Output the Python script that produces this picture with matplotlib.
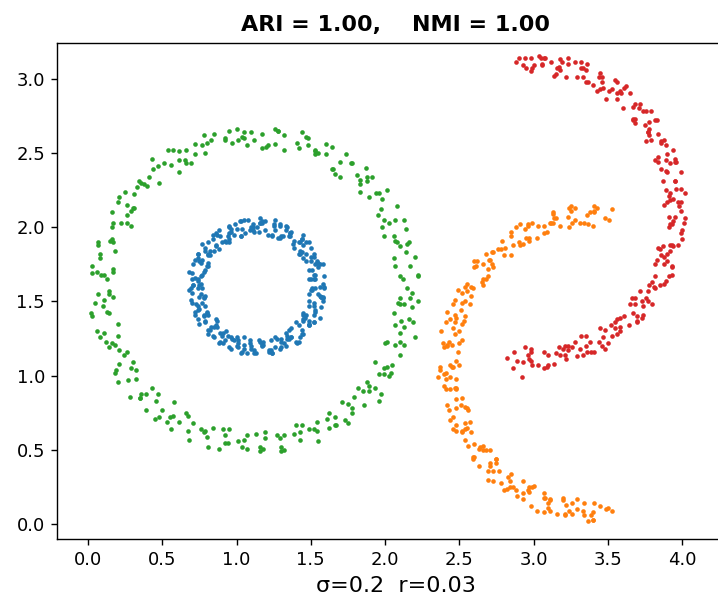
import matplotlib
matplotlib.use("Agg")
import matplotlib.pyplot as plt
import numpy as np

# points, one list per cluster
green_pts = [
    (2.18, 1.56), (2.10, 1.67), (2.22, 1.68), (2.12, 1.65), (2.14, 1.83), (2.06, 1.79), (2.16, 1.90), (2.07, 1.91),
    (2.15, 1.89), (2.06, 1.94), (2.13, 2.05), (1.97, 2.12), (2.03, 2.03), (1.95, 2.08), (2.01, 2.25), (1.94, 2.23),
    (1.83, 2.24), (1.91, 2.34), (1.83, 2.29), (1.88, 2.34), (1.81, 2.35), (1.70, 2.44), (1.78, 2.43), (1.65, 2.39),
    (1.64, 2.54), (1.53, 2.49), (1.60, 2.56), (1.48, 2.55), (1.53, 2.51), (1.42, 2.53), (1.47, 2.61), (1.28, 2.65),
    (1.32, 2.52), (1.21, 2.55), (1.26, 2.66), (1.17, 2.63),
    (1.04, 2.61), (1.10, 2.64), (1.01, 2.59), (1.05, 2.60), (0.97, 2.57), (0.85, 2.63), (0.92, 2.59), (0.79, 2.50),
    (0.78, 2.62), (0.66, 2.52), (0.72, 2.56), (0.61, 2.51), (0.66, 2.43), (0.56, 2.42), (0.61, 2.45), (0.43, 2.46),
    (0.48, 2.30), (0.38, 2.29), (0.44, 2.39), (0.36, 2.30), (0.25, 2.24), (0.33, 2.27), (0.26, 2.15), (0.31, 2.13),
    (0.26, 2.08), (0.16, 2.10), (0.26, 2.03), (0.15, 1.91), (0.16, 2.00), (0.07, 1.88), (0.17, 1.90), (0.08, 1.82),
    (0.17, 1.72), (0.09, 1.68), (0.17, 1.70), (0.03, 1.69),
    (0.11, 1.51), (0.05, 1.49), (0.14, 1.57), (0.10, 1.47), (0.03, 1.40), (0.14, 1.42), (0.11, 1.29), (0.20, 1.27),
    (0.18, 1.21), (0.12, 1.23), (0.26, 1.16), (0.19, 1.04), (0.24, 1.14), (0.18, 1.02), (0.32, 1.04), (0.27, 0.97),
    (0.39, 0.88), (0.35, 0.85), (0.47, 0.88), (0.36, 0.88), (0.48, 0.72), (0.45, 0.71), (0.58, 0.82), (0.57, 0.73),
    (0.53, 0.69), (0.67, 0.73), (0.67, 0.63), (0.79, 0.63), (0.80, 0.59), (0.76, 0.64), (0.92, 0.60), (0.88, 0.51),
    (0.95, 0.64), (0.92, 0.55), (1.07, 0.60), (1.05, 0.57),
    (1.18, 0.51), (1.16, 0.52), (1.29, 0.58), (1.19, 0.62), (1.32, 0.50), (1.30, 0.52), (1.44, 0.67), (1.43, 0.62),
    (1.39, 0.61), (1.54, 0.69), (1.54, 0.63), (1.66, 0.67), (1.67, 0.67), (1.62, 0.75), (1.78, 0.75), (1.73, 0.70),
    (1.79, 0.86), (1.75, 0.81), (1.89, 0.90), (1.85, 0.90), (1.97, 0.88), (1.93, 0.92), (2.04, 1.02), (1.93, 1.09),
    (2.03, 1.00), (1.99, 1.05), (2.10, 1.23), (2.07, 1.21), (2.01, 1.23), (2.13, 1.33), (2.10, 1.29), (2.19, 1.36),
    (2.16, 1.38), (2.09, 1.49), (2.22, 1.50), (2.13, 1.48),
    # second sweep
    (2.10, 1.52), (2.22, 1.67), (2.15, 1.59), (2.07, 1.74), (2.17, 1.74), (2.10, 1.87), (2.20, 1.80), (2.08, 1.90),
    (2.14, 1.99), (1.99, 1.94), (2.07, 2.05), (1.98, 2.00), (2.08, 2.14), (1.99, 2.05), (1.89, 2.20), (1.98, 2.19),
    (1.88, 2.31), (1.96, 2.23), (1.83, 2.32), (1.87, 2.40), (1.70, 2.34), (1.77, 2.43), (1.66, 2.36), (1.74, 2.49),
    (1.64, 2.39), (1.53, 2.52), (1.60, 2.49), (1.48, 2.60), (1.55, 2.50), (1.41, 2.57), (1.44, 2.64), (1.26, 2.56),
    (1.32, 2.62), (1.20, 2.54), (1.28, 2.65), (1.17, 2.53),
    (1.05, 2.64), (1.12, 2.59), (1.00, 2.66), (1.07, 2.55), (0.92, 2.60), (0.95, 2.65), (0.77, 2.55), (0.83, 2.59),
    (0.72, 2.49), (0.80, 2.57), (0.69, 2.43), (0.57, 2.52), (0.65, 2.45), (0.54, 2.52), (0.61, 2.37), (0.47, 2.41),
    (0.51, 2.43), (0.34, 2.31), (0.41, 2.34), (0.31, 2.22), (0.40, 2.28), (0.30, 2.13), (0.21, 2.20), (0.29, 2.11),
    (0.20, 2.17), (0.29, 2.01), (0.17, 2.03), (0.22, 2.03), (0.07, 1.90), (0.16, 1.92), (0.08, 1.79), (0.18, 1.84),
    (0.11, 1.68), (0.03, 1.74), (0.13, 1.65), (0.06, 1.70),
    (0.17, 1.53), (0.07, 1.55), (0.14, 1.55), (0.02, 1.42), (0.13, 1.43), (0.06, 1.30), (0.20, 1.35), (0.14, 1.19),
    (0.08, 1.26), (0.21, 1.17), (0.16, 1.22), (0.29, 1.05), (0.21, 1.08), (0.30, 1.09), (0.20, 0.96), (0.32, 0.98),
    (0.28, 0.86), (0.43, 0.92), (0.39, 0.77), (0.35, 0.85), (0.50, 0.77), (0.46, 0.83), (0.61, 0.69), (0.55, 0.72),
    (0.66, 0.75), (0.56, 0.64), (0.71, 0.68), (0.68, 0.57), (0.84, 0.65), (0.81, 0.52), (0.78, 0.62), (0.94, 0.55),
    (0.91, 0.64), (1.07, 0.51), (1.01, 0.56), (1.13, 0.61),
    (1.04, 0.52), (1.19, 0.58), (1.16, 0.49), (1.32, 0.60), (1.30, 0.49), (1.27, 0.60), (1.43, 0.57), (1.40, 0.67),
    (1.55, 0.56), (1.49, 0.64), (1.61, 0.71), (1.52, 0.64), (1.66, 0.72), (1.62, 0.65), (1.78, 0.78), (1.75, 0.68),
    (1.71, 0.82), (1.86, 0.80), (1.82, 0.92), (1.96, 0.83), (1.89, 0.93), (1.99, 1.01), (1.88, 0.96), (2.01, 1.06),
    (1.96, 1.01), (2.10, 1.14), (2.05, 1.07), (2.00, 1.22), (2.13, 1.21), (2.07, 1.34), (2.20, 1.26), (2.11, 1.37),
    (2.18, 1.46), (2.06, 1.42), (2.17, 1.52), (2.10, 1.48),
]

blue_pts = [
    (1.58, 1.62), (1.51, 1.59), (1.52, 1.68), (1.59, 1.60), (1.59, 1.67), (1.51, 1.71), (1.53, 1.65), (1.55, 1.76),
    (1.47, 1.77), (1.56, 1.75), (1.53, 1.75), (1.50, 1.80), (1.52, 1.82), (1.45, 1.79), (1.45, 1.88), (1.52, 1.80),
    (1.50, 1.86), (1.42, 1.90), (1.43, 1.84), (1.45, 1.95), (1.35, 1.94), (1.44, 1.92), (1.39, 1.91), (1.36, 1.96),
    (1.37, 1.97), (1.30, 1.94), (1.29, 2.02), (1.36, 1.94), (1.33, 1.98), (1.25, 2.02), (1.24, 1.94), (1.26, 2.05),
    (1.16, 2.03), (1.25, 2.01), (1.19, 1.98), (1.16, 2.03),
    (1.17, 2.03), (1.10, 2.00), (1.08, 2.05), (1.15, 1.97), (1.11, 2.00), (1.03, 2.04), (1.03, 1.94), (1.05, 2.05),
    (0.95, 2.01), (1.04, 1.99), (0.98, 1.95), (0.95, 2.00), (0.96, 1.97), (0.89, 1.94), (0.88, 1.98), (0.95, 1.90),
    (0.92, 1.91), (0.84, 1.95), (0.85, 1.84), (0.87, 1.95), (0.77, 1.89), (0.86, 1.87), (0.82, 1.81), (0.79, 1.86),
    (0.81, 1.82), (0.74, 1.79), (0.74, 1.82), (0.81, 1.74), (0.80, 1.74), (0.72, 1.78), (0.74, 1.65), (0.76, 1.76),
    (0.68, 1.70), (0.77, 1.68), (0.75, 1.61), (0.72, 1.66),
    (0.76, 1.62), (0.69, 1.59), (0.71, 1.61), (0.78, 1.53), (0.78, 1.52), (0.70, 1.56), (0.74, 1.44), (0.76, 1.55),
    (0.70, 1.49), (0.79, 1.47), (0.78, 1.40), (0.75, 1.45), (0.81, 1.41), (0.74, 1.38), (0.78, 1.41), (0.85, 1.33),
    (0.87, 1.33), (0.79, 1.37), (0.85, 1.26), (0.87, 1.37), (0.82, 1.31), (0.91, 1.29), (0.92, 1.24), (0.89, 1.29),
    (0.96, 1.26), (0.89, 1.23), (0.94, 1.27), (1.01, 1.19), (1.05, 1.21), (0.97, 1.25), (1.03, 1.15), (1.05, 1.26),
    (1.01, 1.22), (1.10, 1.20), (1.12, 1.17), (1.09, 1.22),
    (1.17, 1.21), (1.10, 1.18), (1.15, 1.24), (1.22, 1.16), (1.26, 1.19), (1.18, 1.23), (1.24, 1.15), (1.26, 1.26),
    (1.23, 1.24), (1.32, 1.22), (1.33, 1.20), (1.30, 1.25), (1.37, 1.26), (1.30, 1.23), (1.35, 1.31), (1.42, 1.23),
    (1.45, 1.28), (1.37, 1.32), (1.43, 1.26), (1.45, 1.37), (1.40, 1.36), (1.49, 1.34), (1.49, 1.34), (1.46, 1.39),
    (1.52, 1.41), (1.45, 1.38), (1.49, 1.47), (1.56, 1.39), (1.57, 1.46), (1.49, 1.50), (1.53, 1.44), (1.55, 1.55),
    (1.49, 1.55), (1.58, 1.53), (1.56, 1.54), (1.53, 1.59),
    # second sweep
    (1.59, 1.59), (1.52, 1.65), (1.49, 1.65), (1.56, 1.60), (1.55, 1.73), (1.50, 1.65), (1.58, 1.75), (1.53, 1.68),
    (1.49, 1.71), (1.54, 1.77), (1.54, 1.76), (1.47, 1.82), (1.43, 1.82), (1.50, 1.77), (1.47, 1.90), (1.42, 1.82),
    (1.49, 1.90), (1.44, 1.83), (1.39, 1.86), (1.44, 1.92), (1.43, 1.90), (1.36, 1.96), (1.31, 1.94), (1.38, 1.89),
    (1.33, 2.01), (1.28, 1.93), (1.34, 2.00), (1.29, 1.93), (1.24, 1.95), (1.29, 2.01), (1.26, 1.98), (1.19, 2.04),
    (1.14, 2.00), (1.21, 1.95), (1.16, 2.06), (1.11, 1.98),
    (1.17, 2.04), (1.12, 1.97), (1.06, 1.96), (1.11, 2.02), (1.09, 1.98), (1.02, 2.04), (0.96, 1.99), (1.03, 1.94),
    (0.99, 2.02), (0.94, 1.94), (1.00, 1.99), (0.95, 1.92), (0.90, 1.90), (0.95, 1.96), (0.93, 1.90), (0.86, 1.96),
    (0.81, 1.90), (0.88, 1.85), (0.84, 1.92), (0.79, 1.84), (0.86, 1.88), (0.81, 1.81), (0.77, 1.78), (0.82, 1.84),
    (0.81, 1.76), (0.74, 1.82), (0.71, 1.75), (0.78, 1.70), (0.75, 1.77), (0.70, 1.69), (0.79, 1.71), (0.74, 1.64),
    (0.71, 1.61), (0.76, 1.67), (0.77, 1.59), (0.70, 1.65),
    (0.68, 1.58), (0.75, 1.53), (0.74, 1.59), (0.69, 1.51), (0.79, 1.54), (0.74, 1.47), (0.72, 1.43), (0.77, 1.49),
    (0.80, 1.42), (0.73, 1.48), (0.72, 1.41), (0.79, 1.36), (0.80, 1.43), (0.75, 1.35), (0.86, 1.38), (0.81, 1.31),
    (0.81, 1.28), (0.86, 1.34), (0.90, 1.27), (0.83, 1.33), (0.84, 1.27), (0.91, 1.22), (0.93, 1.30), (0.88, 1.22),
    (1.00, 1.26), (0.95, 1.19), (0.96, 1.18), (1.01, 1.24), (1.05, 1.18), (0.98, 1.24), (1.00, 1.20), (1.07, 1.15),
    (1.09, 1.24), (1.04, 1.16), (1.17, 1.22), (1.12, 1.15),
    (1.13, 1.15), (1.18, 1.21), (1.23, 1.17), (1.16, 1.23), (1.17, 1.20), (1.24, 1.15), (1.27, 1.25), (1.22, 1.17),
    (1.34, 1.25), (1.29, 1.18), (1.30, 1.19), (1.35, 1.25), (1.40, 1.23), (1.33, 1.29), (1.34, 1.27), (1.41, 1.22),
    (1.42, 1.34), (1.37, 1.26), (1.49, 1.35), (1.44, 1.28), (1.44, 1.31), (1.49, 1.37), (1.52, 1.36), (1.45, 1.42),
    (1.45, 1.41), (1.52, 1.36), (1.52, 1.49), (1.47, 1.41), (1.58, 1.50), (1.53, 1.43), (1.52, 1.47), (1.57, 1.53),
    (1.58, 1.52), (1.51, 1.58), (1.50, 1.58), (1.57, 1.53),
]

orange_pts = [
    (3.51, 2.05), (3.38, 2.10), (3.41, 2.14), (3.31, 2.03), (3.36, 2.08), (3.25, 2.11), (3.24, 2.00), (3.11, 2.03),
    (3.14, 2.06), (3.07, 2.01), (3.09, 1.97), (2.96, 2.01), (2.99, 2.03), (2.90, 1.90), (2.95, 1.93), (2.85, 1.94),
    (2.85, 1.81), (2.73, 1.83), (2.76, 1.85), (2.70, 1.78), (2.73, 1.73), (2.61, 1.74), (2.66, 1.75), (2.58, 1.60),
    (2.65, 1.63), (2.55, 1.62), (2.57, 1.48), (2.46, 1.48), (2.52, 1.49), (2.47, 1.41), (2.52, 1.35), (2.41, 1.36),
    (2.47, 1.36), (2.42, 1.20), (2.50, 1.22), (2.42, 1.21), (2.46, 1.06), (2.37, 1.06), (2.44, 1.07), (2.41, 0.98),
    (2.48, 0.92), (2.40, 0.93), (2.47, 0.92), (2.43, 0.77), (2.54, 0.79), (2.48, 0.78), (2.54, 0.64), (2.46, 0.64),
    (2.55, 0.65), (2.54, 0.57), (2.63, 0.51), (2.56, 0.53), (2.66, 0.53), (2.63, 0.39), (2.75, 0.41), (2.71, 0.41),
    (2.78, 0.28), (2.73, 0.29), (2.83, 0.32), (2.84, 0.25), (2.93, 0.21), (2.88, 0.23), (2.99, 0.25), (2.98, 0.12),
    (3.11, 0.17), (3.08, 0.18), (3.16, 0.07), (3.11, 0.09), (3.22, 0.13), (3.24, 0.09), (3.34, 0.06), (3.29, 0.10),
    (3.41, 0.14), (3.40, 0.03), (3.53, 0.09),
    (3.43, 2.13), (3.48, 2.06), (3.37, 2.02), (3.41, 2.11), (3.23, 2.07), (3.26, 2.03), (3.24, 2.13), (3.13, 2.10),
    (3.18, 2.01), (3.07, 1.96), (3.12, 2.03), (2.94, 1.99), (2.97, 1.93), (2.96, 2.02), (2.85, 1.97), (2.91, 1.88),
    (2.80, 1.81), (2.86, 1.88), (2.68, 1.82), (2.72, 1.75), (2.72, 1.83), (2.62, 1.77), (2.69, 1.67), (2.59, 1.59),
    (2.66, 1.65), (2.49, 1.58), (2.54, 1.50), (2.55, 1.57), (2.47, 1.51), (2.54, 1.40), (2.46, 1.32), (2.53, 1.37),
    (2.38, 1.30), (2.45, 1.21), (2.47, 1.28), (2.39, 1.22), (2.48, 1.10), (2.41, 1.02), (2.50, 1.07), (2.36, 0.99),
    (2.44, 0.91), (2.48, 0.98), (2.41, 0.91), (2.51, 0.80), (2.46, 0.72), (2.56, 0.77), (2.44, 0.70), (2.52, 0.62),
    (2.57, 0.69), (2.52, 0.63), (2.64, 0.52), (2.59, 0.45), (2.71, 0.50), (2.59, 0.44), (2.69, 0.36), (2.75, 0.44),
    (2.71, 0.39), (2.84, 0.29), (2.80, 0.23), (2.93, 0.29), (2.82, 0.24), (2.93, 0.17), (3.00, 0.26), (2.97, 0.22),
    (3.10, 0.14), (3.07, 0.08), (3.20, 0.16), (3.10, 0.11), (3.21, 0.06), (3.29, 0.17), (3.26, 0.14), (3.39, 0.06),
    (3.37, 0.02), (3.50, 0.11), (3.40, 0.08),
    (3.53, 2.12), (3.40, 2.01), (3.41, 2.10), (3.28, 2.13), (3.34, 2.03), (3.25, 2.14), (3.28, 2.05), (3.13, 2.03),
    (3.13, 2.09), (3.15, 2.06), (3.02, 1.93), (3.03, 2.01), (2.91, 2.02), (2.97, 1.91), (2.88, 2.00), (2.93, 1.89),
    (2.78, 1.85), (2.79, 1.91), (2.81, 1.86), (2.69, 1.72), (2.71, 1.78), (2.60, 1.77), (2.68, 1.65), (2.60, 1.73),
    (2.66, 1.61), (2.52, 1.56), (2.54, 1.60), (2.58, 1.54), (2.48, 1.39), (2.51, 1.44), (2.42, 1.43), (2.50, 1.30),
    (2.44, 1.38), (2.52, 1.24), (2.40, 1.19), (2.43, 1.23), (2.49, 1.16), (2.40, 1.01), (2.45, 1.06), (2.37, 1.04),
    (2.48, 0.91), (2.44, 0.99), (2.52, 0.85), (2.42, 0.80), (2.48, 0.84), (2.55, 0.78), (2.48, 0.63), (2.54, 0.68),
    (2.48, 0.67), (2.60, 0.54), (2.58, 0.62), (2.68, 0.50), (2.60, 0.45), (2.66, 0.50), (2.75, 0.44), (2.69, 0.30),
    (2.77, 0.36), (2.73, 0.36), (2.86, 0.25), (2.85, 0.34), (2.96, 0.23), (2.89, 0.19), (2.97, 0.25), (3.07, 0.21),
    (3.02, 0.09), (3.11, 0.16), (3.07, 0.18), (3.21, 0.07), (3.20, 0.18), (3.33, 0.09), (3.26, 0.07), (3.34, 0.14),
    (3.45, 0.12), (3.40, 0.03), (3.49, 0.10),
]

red_pts = [
    (2.90, 3.14), (2.98, 3.05), (2.93, 3.09), (3.05, 3.14), (3.06, 3.09), (3.16, 3.07), (3.12, 3.11), (3.23, 3.14),
    (3.22, 3.01), (3.35, 3.06), (3.32, 3.07), (3.40, 2.96), (3.35, 2.98), (3.46, 3.01), (3.47, 2.94), (3.56, 2.90),
    (3.51, 2.92), (3.61, 2.94), (3.60, 2.80), (3.72, 2.83), (3.68, 2.83), (3.75, 2.69), (3.68, 2.70), (3.78, 2.71),
    (3.77, 2.64), (3.86, 2.58), (3.79, 2.59), (3.88, 2.59), (3.84, 2.44), (3.95, 2.46), (3.89, 2.45), (3.95, 2.31),
    (3.87, 2.31), (3.95, 2.31), (3.92, 2.23), (3.99, 2.17), (3.90, 2.17), (3.97, 2.17), (3.92, 2.02), (4.01, 2.03),
    (3.93, 2.02), (3.97, 1.88), (3.87, 1.87), (3.93, 1.88), (3.88, 1.80), (3.93, 1.74), (3.82, 1.75), (3.88, 1.75),
    (3.81, 1.60), (3.88, 1.62), (3.78, 1.61), (3.80, 1.48), (3.68, 1.48), (3.73, 1.50), (3.67, 1.42), (3.70, 1.37),
    (3.58, 1.39), (3.61, 1.40), (3.53, 1.27), (3.58, 1.30), (3.48, 1.31), (3.48, 1.18), (3.35, 1.20), (3.38, 1.23),
    (3.31, 1.18), (3.33, 1.14), (3.20, 1.18), (3.23, 1.20), (3.14, 1.08), (3.18, 1.14), (3.07, 1.16), (3.07, 1.05),
    (2.93, 1.09), (2.96, 1.14), (2.89, 1.10),
    (2.98, 3.14), (2.88, 3.11), (2.99, 3.07), (3.07, 3.14), (3.04, 3.15), (3.17, 3.08), (3.15, 3.03), (3.28, 3.11),
    (3.18, 3.06), (3.29, 3.01), (3.36, 3.10), (3.33, 3.07), (3.46, 2.98), (3.43, 2.92), (3.56, 2.98), (3.45, 2.93),
    (3.56, 2.86), (3.62, 2.95), (3.59, 2.90), (3.71, 2.80), (3.67, 2.73), (3.79, 2.78), (3.67, 2.72), (3.77, 2.64),
    (3.82, 2.72), (3.78, 2.66), (3.89, 2.55), (3.84, 2.47), (3.94, 2.52), (3.82, 2.45), (3.90, 2.37), (3.95, 2.44),
    (3.89, 2.38), (3.99, 2.26), (3.92, 2.18), (4.02, 2.23), (3.88, 2.15), (3.95, 2.07), (3.98, 2.14), (3.91, 2.07),
    (3.99, 1.96), (3.92, 1.88), (4.00, 1.92), (3.85, 1.85), (3.90, 1.77), (3.92, 1.84), (3.83, 1.78), (3.91, 1.67),
    (3.82, 1.59), (3.89, 1.64), (3.72, 1.57), (3.77, 1.50), (3.77, 1.57), (3.68, 1.52), (3.74, 1.41), (3.64, 1.34),
    (3.70, 1.40), (3.52, 1.34), (3.56, 1.28), (3.55, 1.36), (3.45, 1.32), (3.50, 1.22), (3.39, 1.16), (3.44, 1.23),
    (3.26, 1.19), (3.29, 1.13), (3.28, 1.23), (3.17, 1.19), (3.22, 1.11), (3.10, 1.07), (3.15, 1.15), (2.97, 1.11),
    (2.99, 1.07), (2.98, 1.18), (2.87, 1.16),
    (2.95, 3.07), (2.94, 3.14), (3.06, 3.10), (3.00, 3.09), (3.08, 3.14), (3.18, 3.13), (3.14, 3.02), (3.23, 3.10),
    (3.19, 3.11), (3.33, 3.01), (3.32, 3.11), (3.44, 3.01), (3.37, 2.98), (3.45, 3.04), (3.55, 2.99), (3.49, 2.86),
    (3.58, 2.92), (3.53, 2.93), (3.67, 2.81), (3.65, 2.90), (3.76, 2.78), (3.68, 2.73), (3.74, 2.78), (3.83, 2.72),
    (3.76, 2.58), (3.84, 2.63), (3.78, 2.62), (3.90, 2.49), (3.86, 2.57), (3.96, 2.44), (3.86, 2.39), (3.92, 2.43),
    (3.99, 2.37), (3.91, 2.21), (3.96, 2.26), (3.89, 2.25), (3.99, 2.11), (3.94, 2.19), (4.02, 2.06), (3.91, 2.00),
    (3.94, 2.04), (4.00, 1.98), (3.90, 1.82), (3.94, 1.87), (3.84, 1.86), (3.93, 1.73), (3.86, 1.81), (3.93, 1.68),
    (3.80, 1.63), (3.82, 1.67), (3.85, 1.61), (3.74, 1.47), (3.76, 1.52), (3.66, 1.52), (3.73, 1.39), (3.65, 1.48),
    (3.70, 1.36), (3.55, 1.32), (3.56, 1.38), (3.58, 1.33), (3.46, 1.20), (3.47, 1.26), (3.35, 1.27), (3.41, 1.16),
    (3.32, 1.27), (3.36, 1.16), (3.21, 1.14), (3.21, 1.20), (3.23, 1.17), (3.09, 1.06), (3.10, 1.14), (2.98, 1.16),
    (3.03, 1.07), (2.94, 1.19), (2.98, 1.10), (2.82, 1.12), (2.92, 0.99), (2.86, 1.05),
]

clusters = [green_pts, blue_pts, orange_pts, red_pts]
colors = ["tab:green", "tab:blue", "tab:orange", "tab:red"]

ari, nmi = 1.00, 1.00
sigma, r = 0.2, 0.03

fig = plt.figure(figsize=(7.18, 6.02), dpi=100)
# axes run past the right edge, as in the cropped reference
ax = fig.add_axes([0.0798, 0.1047, 0.9425, 0.8244])

for pts, c in zip(clusters, colors):
    arr = np.array(pts)
    ax.scatter(arr[:, 0], arr[:, 1], s=11, color=c, linewidths=0)

ax.set_xlim(-0.207, 4.35)
ax.set_ylim(-0.099, 3.242)
ax.set_xticks(np.arange(0, 4.01, 0.5))
ax.set_yticks(np.arange(0, 3.01, 0.5))
ax.tick_params(labelsize=13, length=4.5, width=1.0, pad=4.4)
for sp in ax.spines.values():
    sp.set_linewidth(1.0)
ax.set_title(f"ARI = {ari:.2f},    NMI = {nmi:.2f}", fontsize=16, fontweight="bold", pad=8.6)
ax.set_xlabel(f"σ={sigma}  r={r}", fontsize=16, labelpad=4.5)

fig.savefig("out.png", dpi=100)
